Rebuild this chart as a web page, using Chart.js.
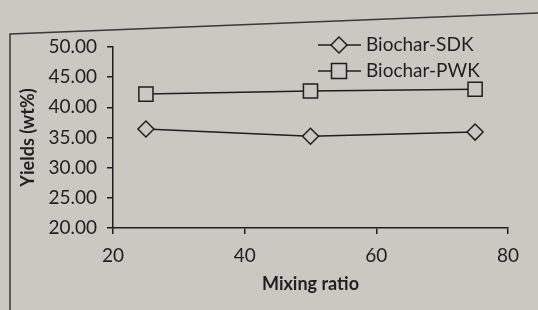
<!DOCTYPE html>
<html>
<head>
<meta charset="utf-8">
<script src="https://cdn.jsdelivr.net/npm/chart.js@4"></script>
<style>
  html, body { margin: 0; padding: 0; background: #cbc7c1; }
</style>
</head>
<body>
<canvas id="yieldChart" width="538" height="310"></canvas>
<script>
const mixingRatio = [25, 50, 75];
const sdkYield = [36.4, 35.2, 35.9];
const pwkYield = [42.2, 42.7, 43.0];
const seriesNames = ['Biochar-SDK', 'Biochar-PWK'];
const xTicks = [20, 40, 60, 80];
const yTicks = [20, 25, 30, 35, 40, 45, 50];

const ink = '#1f1f1f';
const paper = '#cbc7c1';
const font = 'Lato, "Open Sans", sans-serif';

// frame around the figure + legend in the top right
const decor = {
    id: 'decor',
    beforeDraw(chart) {
        const c = chart.ctx;
        c.save();
        c.fillStyle = paper;
        c.fillRect(0, 0, chart.width, chart.height);
        c.strokeStyle = '#3a3a3a';
        c.lineWidth = 1.5;
        c.beginPath();
        c.moveTo(10, 310);
        c.lineTo(10, 34);
        c.lineTo(538, 13);
        c.stroke();
        c.restore();
    },
    afterDraw(chart) {
        const c = chart.ctx;
        c.save();
        chart.data.datasets.forEach((ds, i) => {
            const y = 45 + i * 26;
            c.strokeStyle = ink;
            c.lineWidth = 1.5;
            c.beginPath();
            c.moveTo(318, y);
            c.lineTo(361, y);
            c.stroke();
            const r = ds.pointRadius;
            c.fillStyle = paper;
            c.beginPath();
            if (ds.pointStyle === 'rectRot') {
                c.moveTo(339, y - r); c.lineTo(339 + r, y);
                c.lineTo(339, y + r); c.lineTo(339 - r, y);
            } else {
                const h = r * 0.75;
                c.rect(339 - h, y - h, h * 2, h * 2);
            }
            c.closePath();
            c.fill();
            c.stroke();
            c.fillStyle = ink;
            c.font = '19px ' + font;
            c.textBaseline = 'middle';
            c.fillText(ds.label, 366, y);
        });
        c.restore();
    }
};

const toPoints = vals => vals.map((v, i) => ({ x: mixingRatio[i], y: v }));

new Chart(document.getElementById('yieldChart'), {
    type: 'line',
    data: {
        datasets: [{
            label: seriesNames[0],
            data: toPoints(sdkYield),
            borderColor: ink,
            borderWidth: 1.5,
            pointStyle: 'rectRot',
            pointRadius: 8,
            pointBorderWidth: 1.5,
            pointBorderColor: ink,
            pointBackgroundColor: paper
        }, {
            label: seriesNames[1],
            data: toPoints(pwkYield),
            borderColor: ink,
            borderWidth: 1.5,
            pointStyle: 'rect',
            pointRadius: 10,
            pointBorderWidth: 1.5,
            pointBorderColor: ink,
            pointBackgroundColor: paper
        }]
    },
    options: {
        responsive: false,
        animation: false,
        layout: { padding: { top: 47, right: 30, left: 0, bottom: 0 } },
        plugins: { legend: { display: false }, tooltip: { enabled: false } },
        scales: {
            x: {
                type: 'linear',
                min: 20, max: 80,
                afterBuildTicks: s => { s.ticks = xTicks.map(v => ({ value: v })); },
                afterFit: s => { s.height = 82; },
                grid: { drawOnChartArea: false, color: ink, tickLength: 6, lineWidth: 1.5 },
                border: { color: ink, width: 1.5 },
                ticks: { color: ink, font: { family: font, size: 19 }, padding: 10 },
                title: {
                    display: true, text: 'Mixing ratio', color: ink,
                    font: { family: font, size: 18, weight: 'bold' },
                    padding: { top: 0, bottom: 15 }
                }
            },
            y: {
                min: 20, max: 50,
                afterBuildTicks: s => { s.ticks = yTicks.map(v => ({ value: v })); },
                afterFit: s => { s.width = 113; },
                grid: { drawOnChartArea: false, color: ink, tickLength: 6, lineWidth: 1.5 },
                border: { color: ink, width: 1.5 },
                ticks: {
                    color: ink, font: { family: font, size: 19 }, padding: 10,
                    callback: v => v.toFixed(2)
                },
                title: {
                    display: true, text: 'Yields (wt%)', color: ink,
                    font: { family: font, size: 18, weight: 'bold' },
                    padding: { top: 17, bottom: 0 }
                }
            }
        }
    },
    plugins: [decor]
});
</script>
</body>
</html>
